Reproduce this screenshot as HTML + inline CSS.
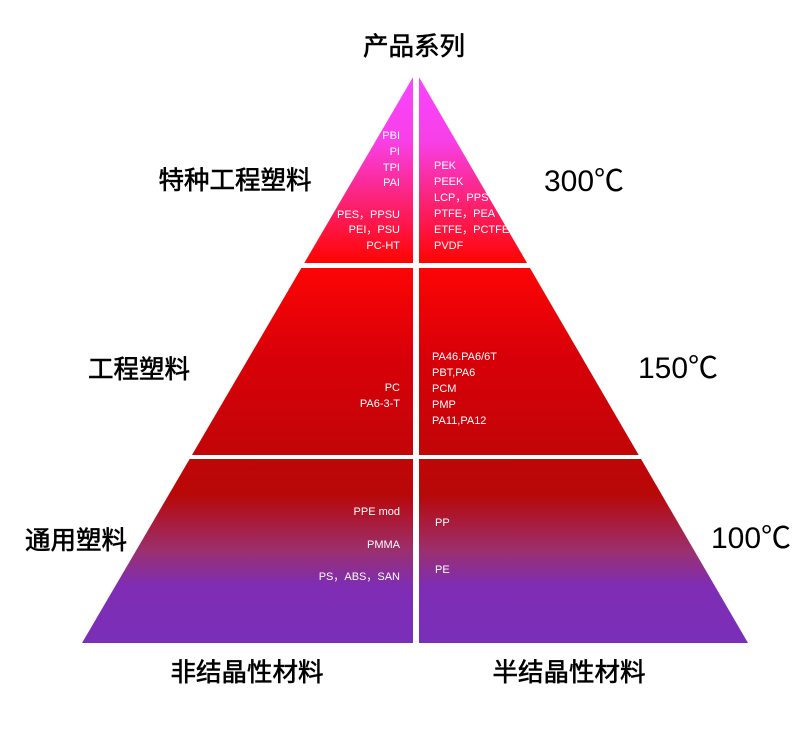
<!DOCTYPE html>
<html><head><meta charset="utf-8"><style>
body{margin:0;background:#fff;}
svg text{font-family:"Liberation Sans","Noto Sans CJK SC",sans-serif;}
.w{fill:#fff;font-size:11px;}
.b{fill:#000;font-size:25.5px;stroke:#000;stroke-width:0.6px;}
.t{fill:#000;font-size:30px;}
</style></head><body>
<svg width="800" height="736" viewBox="0 0 800 736" xmlns="http://www.w3.org/2000/svg">
<defs>
<linearGradient id="g" x1="0" y1="72" x2="0" y2="643" gradientUnits="userSpaceOnUse">
<stop offset="0" stop-color="#f845ff"/>
<stop offset="0.12" stop-color="#f840e8"/>
<stop offset="0.33" stop-color="#ff0505"/>
<stop offset="0.5" stop-color="#d80008"/>
<stop offset="0.74" stop-color="#b80808"/>
<stop offset="0.84" stop-color="#9a3070"/>
<stop offset="0.9" stop-color="#7e2db4"/>
<stop offset="1" stop-color="#7a2fb8"/>
</linearGradient>
</defs>
<polygon points="416,72 82,643 748,643" fill="url(#g)"/>
<rect x="413" y="60" width="6" height="600" fill="#fff"/>
<rect x="60" y="263" width="700" height="5" fill="#fff"/>
<rect x="60" y="455" width="700" height="4" fill="#fff"/>
<text class="b" x="414" y="55" text-anchor="middle">产品系列</text>
<text class="b" x="235" y="189" text-anchor="middle">特种工程塑料</text>
<text class="b" x="139" y="378" text-anchor="middle">工程塑料</text>
<text class="b" x="76" y="549" text-anchor="middle">通用塑料</text>
<text class="b" x="247" y="681" text-anchor="middle">非结晶性材料</text>
<text class="b" x="569" y="681" text-anchor="middle">半结晶性材料</text>
<text class="t" x="584" y="191" text-anchor="middle">300℃</text>
<text class="t" x="678" y="378" text-anchor="middle">150℃</text>
<text class="t" x="751" y="548" text-anchor="middle">100℃</text>
<g class="w" text-anchor="end">
<text x="400" y="139">PBI</text><text x="400" y="155">PI</text><text x="400" y="171">TPI</text><text x="400" y="186">PAI</text>
<text x="400" y="218">PES，PPSU</text><text x="400" y="233">PEI，PSU</text><text x="400" y="249">PC-HT</text>
<text x="400" y="391">PC</text><text x="400" y="407">PA6-3-T</text>
<text x="400" y="515">PPE mod</text><text x="400" y="548">PMMA</text><text x="400" y="580">PS，ABS，SAN</text>
</g>
<g class="w">
<text x="434" y="169">PEK</text><text x="434" y="185">PEEK</text><text x="434" y="201">LCP，PPS</text><text x="434" y="217">PTFE，PEA</text><text x="434" y="233">ETFE，PCTFE</text><text x="434" y="249">PVDF</text>
<text x="432" y="360">PA46.PA6/6T</text><text x="432" y="376">PBT,PA6</text><text x="432" y="392">PCM</text><text x="432" y="408">PMP</text><text x="432" y="424">PA11,PA12</text>
<text x="435" y="526">PP</text><text x="435" y="573">PE</text>
</g>
</svg>
</body></html>
